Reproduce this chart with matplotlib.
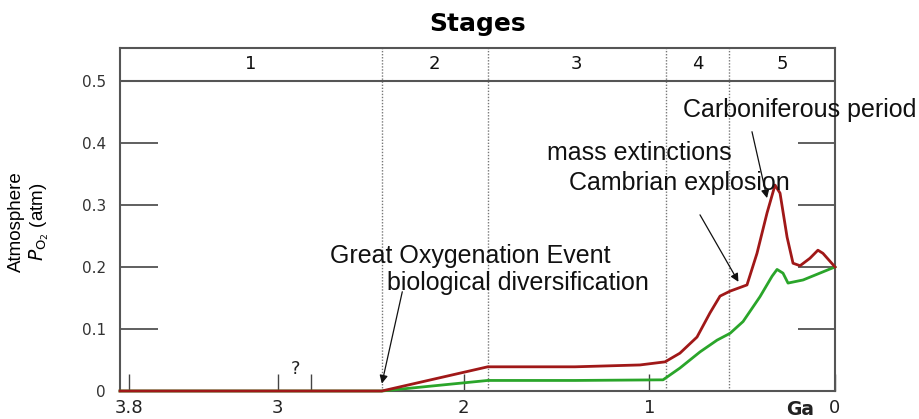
import matplotlib
matplotlib.use("Agg")
import matplotlib.pyplot as plt

# ---------------- data ----------------
red_ga = [3.85, 2.44, 1.87, 1.80, 1.40, 1.05, 0.915, 0.835, 0.743, 0.673, 0.619, 0.565,
          0.474, 0.42, 0.366, 0.323, 0.296, 0.258, 0.226, 0.188, 0.135, 0.092, 0.065, 0.0]
red_po2 = [0.0, 0.0, 0.039, 0.039, 0.039, 0.042, 0.047, 0.061, 0.087, 0.126, 0.153, 0.161,
           0.171, 0.222, 0.287, 0.332, 0.319, 0.248, 0.206, 0.202, 0.214, 0.227, 0.222, 0.2]

green_ga = [3.85, 2.44, 1.87, 1.40, 0.926, 0.835, 0.727, 0.635, 0.565, 0.495, 0.404,
            0.339, 0.312, 0.28, 0.253, 0.172, 0.0]
green_po2 = [0.0, 0.0, 0.017, 0.017, 0.018, 0.037, 0.063, 0.082, 0.093, 0.112, 0.152,
             0.185, 0.196, 0.190, 0.174, 0.179, 0.2]

stage_bounds = [3.85, 2.44, 1.87, 0.91, 0.57, 0.0]
stage_labels = ["1", "2", "3", "4", "5"]

xtick_pos = [3.8, 3, 2, 1, 0]
xtick_lab = ["3.8", "3", "2", "1", "0"]
ytick_pos = [0, 0.1, 0.2, 0.3, 0.4, 0.5]
ytick_lab = ["0", "0.1", "0.2", "0.3", "0.4", "0.5"]
question_ticks = [3.0, 2.82]

# annotations: (text, x, y)
annotations_plain = [
    ("Great Oxygenation Event", 2.72, 0.206),
    ("biological diversification", 2.41, 0.163),
    ("mass extinctions", 1.55, 0.373),
    ("Cambrian explosion", 1.43, 0.324),
    ("Carboniferous period", 0.82, 0.442),
]
arrows = [  # (start, end)
    ((2.33, 0.160), (2.44, 0.012)),
    ((0.727, 0.284), (0.52, 0.176)),
    ((0.447, 0.418), (0.366, 0.311)),
]

# ---------------- figure ----------------
fig = plt.figure(figsize=(9.19, 4.19), dpi=100)
ax = fig.add_axes([120 / 919, 1 - 391 / 419, 715 / 919, 343 / 419])

ax.set_xlim(3.85, 0)
ax.set_ylim(0, 0.553)

spine_c = "#555555"
for s in ax.spines.values():
    s.set_color(spine_c)
    s.set_linewidth(1.5)

# stage band
ax.axhline(0.5, color=spine_c, lw=1.5, zorder=2)
for b in stage_bounds[1:-1]:
    ax.axvline(b, color="#777777", lw=1, ls=(0, (1, 1.2)), zorder=1)
for i, lab in enumerate(stage_labels):
    xc = (stage_bounds[i] + stage_bounds[i + 1]) / 2
    ax.text(xc, 0.5265, lab, ha="center", va="center", fontsize=13,
            family="DejaVu Sans", color="#111111")

# curves
ax.plot(green_ga, green_po2, color="#2aa52a", lw=2, zorder=4, clip_on=False,
        solid_joinstyle="round")
ax.plot(red_ga, red_po2, color="#a01818", lw=2, zorder=5, clip_on=False,
        solid_joinstyle="round")

# ticks
ax.set_xticks(xtick_pos)
ax.set_xticklabels(xtick_lab, fontsize=13, family="DejaVu Sans", color="#222222")
ax.set_xticks(question_ticks[1:], minor=True)
ax.tick_params(axis="x", which="both", direction="in", length=12, width=1,
               color="#444444", pad=6)
ax.set_yticks(ytick_pos)
ax.set_yticklabels(ytick_lab, fontsize=11, family="DejaVu Sans", color="#333333")
ax.tick_params(axis="y", direction="in", length=27, width=1.2, color="#444444",
               right=True, labelright=False, pad=10)

ax.text(2.905, 0.027, "?", ha="center", va="baseline", fontsize=13,
        family="DejaVu Sans", color="#222222")
ax.text(0.19, -0.030, "Ga", ha="center", va="center", fontsize=13.5, fontweight="bold",
        family="DejaVu Sans", color="#222222", clip_on=False)

# annotations
for txt, x, y in annotations_plain:
    ax.text(x, y, txt, ha="left", va="baseline", fontsize=18,
            family="Liberation Sans", color="#111111", clip_on=False, zorder=6)
for (x0, y0), (x1, y1) in arrows:
    ax.annotate("", xy=(x1, y1), xytext=(x0, y0),
                arrowprops=dict(arrowstyle="-|>", color="#111111", lw=0.9,
                                mutation_scale=12, shrinkA=0, shrinkB=0), zorder=6)

# labels
ax.set_title("Stages", fontsize=18, fontweight="bold", family="DejaVu Sans", pad=12)
fig.text(29 / 919, 1 - 222 / 419, "Atmosphere\n$P_{\\mathrm{O}_2}$ (atm)",
         rotation=90, ha="center", va="center", fontsize=13.5,
         family="Liberation Sans", linespacing=1.15, multialignment="center")

fig.savefig("out.png", dpi=100)
